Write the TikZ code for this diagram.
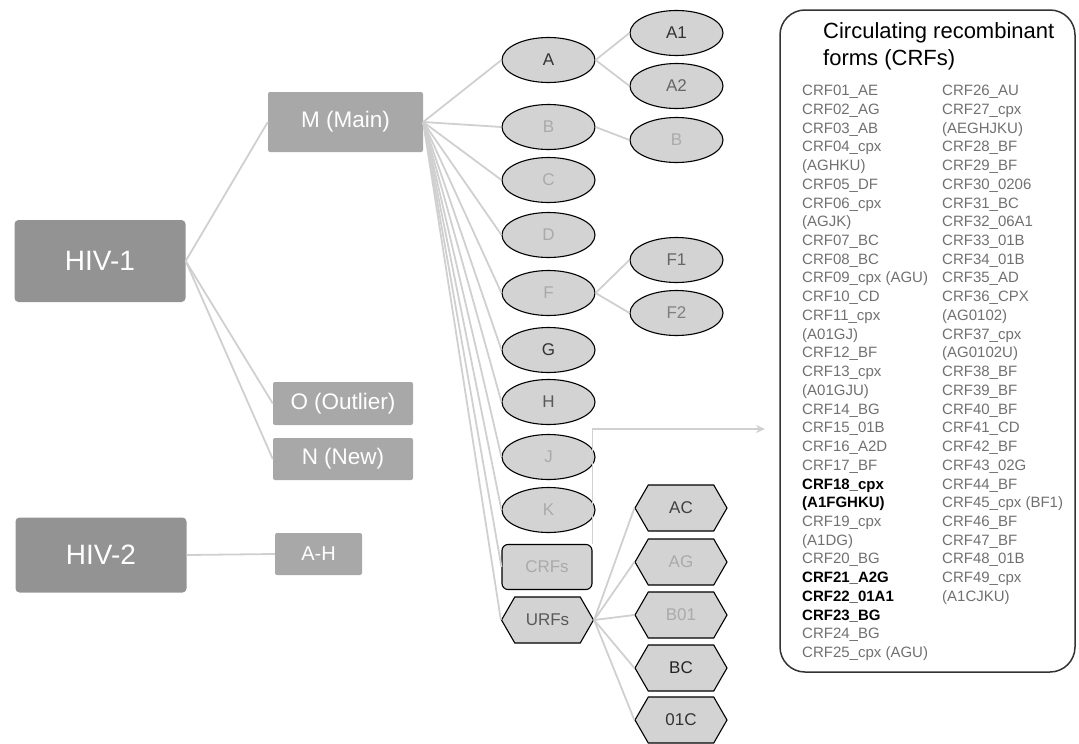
\documentclass[tikz,border=0pt]{standalone}
\usepackage{fontspec}
\setmainfont{Liberation Sans}
\usetikzlibrary{positioning, arrows.meta, shapes.geometric, shapes.symbols}

\definecolor{hivgrey}{HTML}{939393}
\definecolor{boxgrey}{HTML}{A8A8A8}
\definecolor{ovalgrey}{HTML}{D3D3D3}
\definecolor{linkgrey}{HTML}{D0D0D0}
\definecolor{faintgrey}{HTML}{AAAAAA}
\definecolor{listgrey}{HTML}{707070}

\newcommand{\crfbold}[1]{\textbf{\textcolor{black}{#1}}}

\begin{document}
\begin{tikzpicture}[
    x=1pt, y=-1pt,          % pixel-like units, origin top left
    >=Stealth,
    hivbox/.style={fill=hivgrey, rounded corners=4pt, text=white, minimum width=171pt,
        font=\fontsize{28}{32}\selectfont},
    groupbox/.style={fill=boxgrey, rounded corners=2pt, text=white,
        font=\fontsize{22.5}{26}\selectfont},
    subtype/.style={ellipse, draw=black, line width=1.1pt, fill=ovalgrey, minimum width=93pt,
        minimum height=45pt, inner sep=0pt, font=\fontsize{17}{20}\selectfont},
    urfhex/.style={signal, signal to=west and east, signal pointer angle=120, draw=black,
        line width=1.1pt, fill=ovalgrey, minimum width=92pt, minimum height=46pt, inner sep=0pt,
        font=\fontsize{17}{20}\selectfont},
    faint/.style={text=faintgrey},
    branch/.style={draw=linkgrey, line width=1.8pt}
]
    \useasboundingbox (0,0) rectangle (1079,744);

    % --- HIV types and groups ---
    \node [hivbox, minimum height=82pt] (hiv1) at (100,261) {HIV-1};
    \node [hivbox, minimum height=75pt] (hiv2) at (101,555) {HIV-2};

    \node [groupbox, minimum width=155pt, minimum height=60pt] (groupM) at (345.5,122) {M (Main)};
    \node [groupbox, minimum width=140pt, minimum height=43pt] (groupO) at (343,403.5) {O (Outlier)};
    \node [groupbox, minimum width=140pt, minimum height=42pt] (groupN) at (343,459) {N (New)};
    \node [groupbox, minimum width=87pt, minimum height=42pt, font=\fontsize{20}{24}\selectfont]
        (groupAH) at (318.5,554) {A-H};

    % --- subtypes of group M ---
    \node [subtype, text=black!80] (subA) at (548.5,60) {A};
    \node [subtype, faint] (subB) at (548.5,127) {B};
    \node [subtype, faint] (subC) at (548.5,180) {C};
    \node [subtype, faint] (subD) at (548.5,235) {D};
    \node [subtype, faint] (subF) at (548.5,293) {F};
    \node [subtype, text=black!80] (subG) at (548.5,350) {G};
    \node [subtype, text=black!65] (subH) at (548.5,402) {H};
    \node [subtype, faint] (subJ) at (548.5,457) {J};
    \node [subtype, faint] (subK) at (548.5,510) {K};
    \node [draw=black, line width=1.1pt, fill=ovalgrey, rounded corners=6pt, minimum width=90pt,
        minimum height=45pt, inner sep=0pt, faint, font=\fontsize{17}{20}\selectfont]
        (subcrfs) at (547,567) {CRFs};
    \node [urfhex, text=black!65] (suburfs) at (547.5,620) {URFs};

    % --- sub-subtypes ---
    \node [subtype, text=black!80] (subA1) at (676.5,33) {A1};
    \node [subtype, text=black!60] (subA2) at (676.5,86) {A2};
    \node [subtype, faint] (subBB) at (676.5,140) {B};
    \node [subtype, text=black!60] (subF1) at (676.5,260) {F1};
    \node [subtype, text=black!50] (subF2) at (676.5,313) {F2};

    % --- unique recombinant forms ---
    \node [urfhex, text=black!75] (urfAC) at (681,508) {AC};
    \node [urfhex, faint] (urfAG) at (681,562) {AG};
    \node [urfhex, faint] (urfB01) at (681,615) {B01};
    \node [urfhex, text=black!85] (urfBC) at (681,668) {BC};
    \node [urfhex, text=black!80] (urf01C) at (681,720) {01C};

    % --- branches ---
    \draw [branch] (hiv1.east) -- (groupM.west);
    \draw [branch] (hiv1.east) -- (groupO.west);
    \draw [branch] (hiv1.east) -- (groupN.west);
    \draw [branch] (hiv2.east) -- (groupAH.west);

    \foreach \s in {A,B,C,D,F,G,H,J,K,crfs,urfs}
        \draw [branch] (groupM.east) -- (sub\s.west);

    \draw [branch] (subA.east) -- (subA1.west);
    \draw [branch] (subA.east) -- (subA2.west);
    \draw [branch] (subB.east) -- (subBB.west);
    \draw [branch] (subF.east) -- (subF1.west);
    \draw [branch] (subF.east) -- (subF2.west);

    \foreach \u in {AC,AG,B01,BC,01C}
        \draw [branch] (suburfs.east) -- (urf\u.west);

    % --- list of CRFs ---
    \node [draw=black!80, line width=1.5pt, rounded corners=25pt, minimum width=295pt,
        minimum height=662pt, inner sep=0pt] (crfbox) at (927.5,341) {};
    \coordinate (crfin) at (765,429);
    \draw [branch, -{Stealth[length=9pt, width=8pt]}] (subcrfs.north east) |- (crfin);

    \node [anchor=north west, align=left, inner sep=0pt, font=\fontsize{22}{27}\selectfont]
        (crftitle) at (823,22) {Circulating recombinant\\forms (CRFs)};

    \node [anchor=north west, align=left, inner sep=0pt, text=listgrey,
        font=\fontsize{15}{18.73}\selectfont] (crfcolA) at (802,85) {%
        CRF01\_AE\\CRF02\_AG\\CRF03\_AB\\CRF04\_cpx\\(AGHKU)\\CRF05\_DF\\CRF06\_cpx\\(AGJK)\\
        CRF07\_BC\\CRF08\_BC\\CRF09\_cpx (AGU)\\CRF10\_CD\\CRF11\_cpx\\(A01GJ)\\CRF12\_BF\\
        CRF13\_cpx\\(A01GJU)\\CRF14\_BG\\CRF15\_01B\\CRF16\_A2D\\CRF17\_BF\\
        \crfbold{CRF18\_cpx}\\\crfbold{(A1FGHKU)}\\CRF19\_cpx\\(A1DG)\\CRF20\_BG\\
        \crfbold{CRF21\_A2G}\\\crfbold{CRF22\_01A1}\\\crfbold{CRF23\_BG}\\CRF24\_BG\\
        CRF25\_cpx (AGU)};

    \node [anchor=north west, align=left, inner sep=0pt, text=listgrey,
        font=\fontsize{15}{18.73}\selectfont] (crfcolB) at (942,85) {%
        CRF26\_AU\\CRF27\_cpx\\(AEGHJKU)\\CRF28\_BF\\CRF29\_BF\\CRF30\_0206\\CRF31\_BC\\
        CRF32\_06A1\\CRF33\_01B\\CRF34\_01B\\CRF35\_AD\\CRF36\_CPX\\(AG0102)\\CRF37\_cpx\\
        (AG0102U)\\CRF38\_BF\\CRF39\_BF\\CRF40\_BF\\CRF41\_CD\\CRF42\_BF\\CRF43\_02G\\
        CRF44\_BF\\CRF45\_cpx (BF1)\\CRF46\_BF\\CRF47\_BF\\CRF48\_01B\\CRF49\_cpx\\(A1CJKU)};

\end{tikzpicture}
\end{document}
